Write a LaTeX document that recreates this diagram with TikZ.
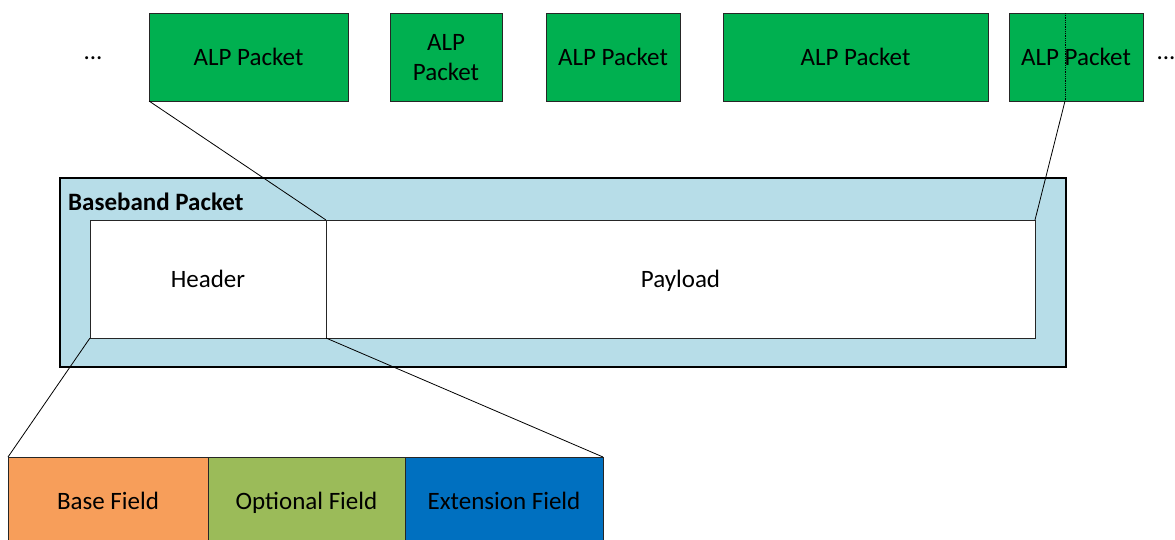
\documentclass[tikz,border=0pt]{standalone}
\usepackage{fontspec}
\setmainfont{Carlito}
\definecolor{alpgreen}{HTML}{00B050}
\definecolor{bbblue}{HTML}{B7DDE8}
\definecolor{fbase}{HTML}{F79E5A}
\definecolor{fopt}{HTML}{9BBB59}
\definecolor{fext}{HTML}{0070C0}
\tikzset{
  alp/.style={draw=black!85, line width=0.8pt, fill=alpgreen},
  box/.style={draw=black!85, line width=0.8pt},
  lbl/.style={font=\fontsize{25}{30}\selectfont, align=center, inner sep=0pt, anchor=base},
  conn/.style={draw=black, line width=0.8pt}
}
\begin{document}
\begin{tikzpicture}[x=1pt,y=-1pt]
\useasboundingbox (0,0) rectangle (1175,539);
% ALP packets
\draw[alp] (149,13) rectangle (348,101);
\node[lbl] (a1) at (248.5,65) {ALP Packet};
\draw[alp] (390,13) rectangle (502,101);
\node[lbl] (a2) at (446,80) {ALP\\Packet};
\draw[alp] (546,13) rectangle (680,101);
\node[lbl] (a3) at (613,65) {ALP Packet};
\draw[alp] (723,13) rectangle (988,101);
\node[lbl] (a4) at (855.5,65) {ALP Packet};
\draw[alp] (1009,13) rectangle (1143,101);
\node[lbl] (a5) at (1076,65) {ALP Packet};
\coordinate (s5t) at (1065,13);
\coordinate (s5b) at (1065,101);
\draw[line width=0.8pt, densely dotted] (s5t) -- (s5b);
\node[lbl] (dl) at (93,59) {...};
\node[lbl] (dr) at (1166,59) {...};
\coordinate (a1bl) at (149,101);
% Baseband packet
\draw[line width=2.4pt, fill=bbblue] (60,178) rectangle (1066,367);
\node[lbl, anchor=base west, font=\fontsize{25}{30}\selectfont\bfseries] (bbl) at (68,210) {Baseband Packet};
\draw[box, fill=white] (90,220) rectangle (326,338);
\draw[box, fill=white] (326,220) rectangle (1035,338);
\node[lbl] (hd) at (208,287) {Header};
\node[lbl] (pl) at (680.5,287) {Payload};
\coordinate (htl) at (326,220);
\coordinate (ptr) at (1035,220);
\coordinate (hbl) at (90,338);
\coordinate (hbr) at (326,338);
% fields
\draw[box, fill=fbase] (8,457) rectangle (208,545);
\draw[box, fill=fopt] (208,457) rectangle (405,545);
\draw[box, fill=fext] (405,457) rectangle (603,545);
\node[lbl] (f1) at (108,509) {Base Field};
\node[lbl] (f2) at (306.5,509) {Optional Field};
\node[lbl] (f3) at (504,509) {Extension Field};
\coordinate (ftl) at (8,457);
\coordinate (ftr) at (603,457);
% connectors
\draw[conn] (a1bl) -- (htl);
\draw[conn] (s5b) -- (ptr);
\draw[conn] (hbl) -- (ftl);
\draw[conn] (hbr) -- (ftr);
\end{tikzpicture}
\end{document}
